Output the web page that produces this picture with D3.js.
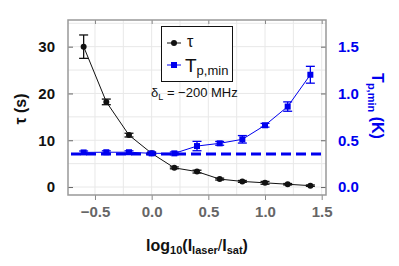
<!DOCTYPE html>
<html>
<head>
<meta charset="utf-8">
<script src="https://cdn.jsdelivr.net/npm/d3@7"></script>
<style>
  body { margin: 0; background: #fff; }
  svg { font-family: "Liberation Sans", Arial, sans-serif; }
</style>
</head>
<body>
<div id="chart"></div>
<script>
var width = 399;
var height = 266;

var logRatio = [-0.6, -0.4, -0.2, 0.0, 0.2, 0.4, 0.6, 0.8, 1.0, 1.2, 1.4];
var tau = [30.0, 18.2, 11.1, 7.2, 4.1, 3.3, 1.7, 1.2, 0.9, 0.6, 0.3];
var tauErr = [2.5, 0.6, 0.4, 0.2, 0.2, 0.3, 0.2, 0.2, 0.3, 0.15, 0.15];
var tMin = [0.37, 0.372, 0.372, 0.36, 0.36, 0.438, 0.467, 0.51, 0.66, 0.86, 1.20];
var tMinErr = [0.015, 0.015, 0.015, 0.015, 0.015, 0.05, 0.02, 0.04, 0.02, 0.05, 0.09];
var tMinLimit = 0.353;
var xTicks = [-0.5, 0.0, 0.5, 1.0, 1.5];
var tauTicks = [0, 10, 20, 30];
var tTicks = [0.0, 0.5, 1.0, 1.5];

var plotLeft = 68, plotRight = 326, plotTop = 20, plotBottom = 195;

var x = d3.scaleLinear().domain([-0.738, 1.538]).range([plotLeft, plotRight]);
var y = d3.scaleLinear().domain([-1.7, 35.7]).range([plotBottom, plotTop]);
var y2 = d3.scaleLinear().domain([-1.7 / 20, 35.7 / 20]).range([plotBottom, plotTop]);

var svg = d3.select('#chart')
  .append('svg')
  .attr('width', width)
  .attr('height', height);

// grid
var grid = svg.append('g');
d3.range(-0.75, 1.55, 0.25).forEach(function(v) {
  if (v < -0.738 || v > 1.538) return;
  grid.append('line')
    .attr('x1', x(v)).attr('x2', x(v)).attr('y1', plotTop).attr('y2', plotBottom)
    .attr('stroke', '#e8e8e8').attr('stroke-width', 1);
});
d3.range(0, 36, 5).forEach(function(v) {
  grid.append('line')
    .attr('x1', plotLeft).attr('x2', plotRight).attr('y1', y(v)).attr('y2', y(v))
    .attr('stroke', '#e8e8e8').attr('stroke-width', 1);
});

// axes
svg.append('g')
  .attr('transform', 'translate(0,' + plotBottom + ')')
  .call(d3.axisBottom(x).tickValues(xTicks).tickSize(5).tickPadding(6)
    .tickFormat(function(d) { return d3.format('.1f')(d).replace('-', '\u2212'); }))
  .call(function(g) {
    g.select('.domain').remove();
    g.selectAll('line').attr('stroke', '#888');
    g.selectAll('text').attr('fill', '#666').attr('font-size', 15).attr('font-weight', 'bold');
  });

svg.append('g')
  .attr('transform', 'translate(0,' + plotTop + ')')
  .call(d3.axisBottom(x).tickValues(xTicks).tickSize(4).tickFormat(''))
  .call(function(g) {
    g.select('.domain').remove();
    g.selectAll('line').attr('stroke', '#888');
  });

svg.append('g')
  .attr('transform', 'translate(' + plotLeft + ',0)')
  .call(d3.axisRight(y).tickValues(tauTicks).tickSize(5).tickFormat(''))
  .call(function(g) {
    g.select('.domain').remove();
    g.selectAll('line').attr('stroke', '#666');
  });
svg.append('g')
  .attr('transform', 'translate(' + plotLeft + ',0)')
  .call(d3.axisLeft(y).tickValues(tauTicks).tickSize(0).tickPadding(13))
  .call(function(g) {
    g.select('.domain').remove();
    g.selectAll('text').attr('fill', '#111').attr('font-size', 15).attr('font-weight', 'bold');
  });

svg.append('g')
  .attr('transform', 'translate(' + plotRight + ',0)')
  .call(d3.axisLeft(y2).tickValues(tTicks).tickSize(5).tickFormat(''))
  .call(function(g) {
    g.select('.domain').remove();
    g.selectAll('line').attr('stroke', '#666');
  });
svg.append('g')
  .attr('transform', 'translate(' + plotRight + ',0)')
  .call(d3.axisRight(y2).tickValues(tTicks).tickSize(0).tickPadding(12)
    .tickFormat(d3.format('.1f')))
  .call(function(g) {
    g.select('.domain').remove();
    g.selectAll('text').attr('fill', '#0000ee').attr('font-size', 15).attr('font-weight', 'bold');
  });

// frame
svg.append('rect')
  .attr('x', plotLeft).attr('y', plotTop)
  .attr('width', plotRight - plotLeft).attr('height', plotBottom - plotTop)
  .attr('fill', 'none').attr('stroke', '#999').attr('stroke-width', 1.5);

// dashed limit line
svg.append('line')
  .attr('x1', plotLeft + 3).attr('x2', plotRight - 2)
  .attr('y1', y2(tMinLimit)).attr('y2', y2(tMinLimit))
  .attr('stroke', '#0000ee').attr('stroke-width', 3)
  .attr('stroke-dasharray', '10,5');

function errorBars(vals, errs, sc, color) {
  var g = svg.append('g').attr('stroke', color).attr('stroke-width', 1.3);
  logRatio.forEach(function(xv, i) {
    var y0 = sc(vals[i] - errs[i]), y1 = sc(vals[i] + errs[i]);
    g.append('line').attr('x1', x(xv)).attr('x2', x(xv)).attr('y1', y0).attr('y2', y1);
    g.append('line').attr('x1', x(xv) - 4.5).attr('x2', x(xv) + 4.5).attr('y1', y0).attr('y2', y0);
    g.append('line').attr('x1', x(xv) - 4.5).attr('x2', x(xv) + 4.5).attr('y1', y1).attr('y2', y1);
  });
}

// tau series
var tauLine = d3.line()
  .x(function(d, i) { return x(logRatio[i]); })
  .y(function(d) { return y(d); });
svg.append('path').datum(tau)
  .attr('d', tauLine).attr('fill', 'none').attr('stroke', '#111').attr('stroke-width', 1);
errorBars(tau, tauErr, y, '#111');
svg.append('g').selectAll('circle').data(tau).enter().append('circle')
  .attr('cx', function(d, i) { return x(logRatio[i]); })
  .attr('cy', function(d) { return y(d); })
  .attr('r', 3).attr('fill', '#111');

// T series
var tLine = d3.line()
  .x(function(d, i) { return x(logRatio[i]); })
  .y(function(d) { return y2(d); });
svg.append('path').datum(tMin)
  .attr('d', tLine).attr('fill', 'none').attr('stroke', '#0000ee').attr('stroke-width', 1);
errorBars(tMin, tMinErr, y2, '#0000ee');
svg.append('g').selectAll('rect').data(tMin).enter().append('rect')
  .attr('x', function(d, i) { return x(logRatio[i]) - 3; })
  .attr('y', function(d) { return y2(d) - 3; })
  .attr('width', 6).attr('height', 6).attr('fill', '#0000ee');

// legend
var lg = svg.append('g');
lg.append('rect')
  .attr('x', 161.5).attr('y', 26.5).attr('width', 71).attr('height', 55)
  .attr('fill', '#fff').attr('stroke', '#111').attr('stroke-width', 1);
lg.append('line').attr('x1', 167).attr('x2', 181).attr('y1', 43).attr('y2', 43)
  .attr('stroke', '#111').attr('stroke-width', 1);
lg.append('circle').attr('cx', 174).attr('cy', 43).attr('r', 3).attr('fill', '#111');
lg.append('text').attr('x', 187).attr('y', 47).attr('font-size', 16).attr('fill', '#111').text('τ');
lg.append('line').attr('x1', 167).attr('x2', 181).attr('y1', 65).attr('y2', 65)
  .attr('stroke', '#0000ee').attr('stroke-width', 1);
lg.append('rect').attr('x', 171).attr('y', 62).attr('width', 6).attr('height', 6).attr('fill', '#0000ee');
var lt = lg.append('text').attr('x', 185).attr('y', 72).attr('font-size', 19).attr('fill', '#111');
lt.append('tspan').text('T');
lt.append('tspan').attr('font-size', 13).attr('dy', 3).text('p,min');

// annotation
var an = svg.append('text').attr('x', 151).attr('y', 97).attr('font-size', 13).attr('fill', '#111');
an.append('tspan').text('δ');
an.append('tspan').attr('font-size', 9).attr('dy', 3).text('L');
an.append('tspan').attr('dy', -3).text(' = \u2212200 MHz');

// axis titles
var xt = svg.append('text').attr('x', 197).attr('y', 251).attr('text-anchor', 'middle')
  .attr('font-size', 16).attr('font-weight', 'bold').attr('fill', '#111');
xt.append('tspan').text('log');
xt.append('tspan').attr('font-size', 11).attr('dy', 3).text('10');
xt.append('tspan').attr('dy', -3).text('(I');
xt.append('tspan').attr('font-size', 11).attr('dy', 3).text('laser');
xt.append('tspan').attr('dy', -3).attr('font-weight', 'normal').text('/');
xt.append('tspan').text('I');
xt.append('tspan').attr('font-size', 11).attr('dy', 3).text('sat');
xt.append('tspan').attr('dy', -3).text(')');

svg.append('text')
  .attr('transform', 'translate(26,109) rotate(-90)')
  .attr('text-anchor', 'middle').attr('font-size', 16).attr('font-weight', 'bold').attr('fill', '#111')
  .text('τ (s)');

var rt = svg.append('text')
  .attr('transform', 'translate(372,106) rotate(90)')
  .attr('text-anchor', 'middle').attr('font-size', 16).attr('font-weight', 'bold').attr('fill', '#0000ee');
rt.append('tspan').text('T');
rt.append('tspan').attr('font-size', 11).attr('dy', 4).text('p,min');
rt.append('tspan').attr('dy', -4).text(' (K)');
</script>
</body>
</html>
